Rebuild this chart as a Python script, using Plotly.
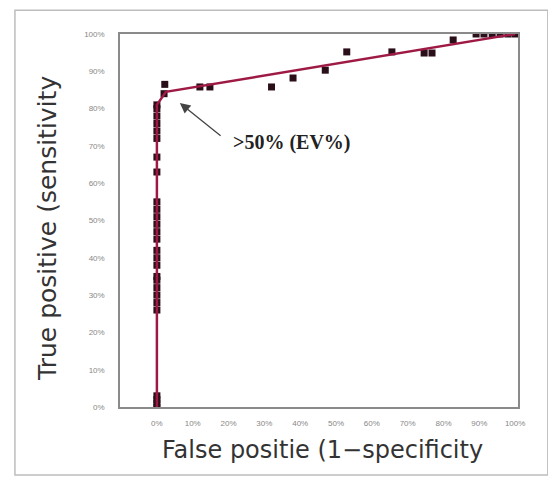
import plotly.graph_objects as go

# ROC points (false positive rate, true positive rate)
fpr = [0, 0, 0, 0,
       0, 0, 0, 0, 0, 0,
       0, 0, 0,
       0, 0, 0,
       0, 0, 0,
       0, 0,
       0, 0, 0, 0, 0,
       0, 0.02, 0.022, 0.12, 0.148, 0.32, 0.38, 0.47, 0.53, 0.656,
       0.746, 0.768, 0.827, 0.891, 0.913, 0.936, 0.958, 0.98, 1.0]
tpr = [0.0, 0.01, 0.02, 0.03,
       0.26, 0.28, 0.30, 0.32, 0.34, 0.35,
       0.38, 0.40, 0.42,
       0.45, 0.47, 0.49,
       0.51, 0.53, 0.55,
       0.63, 0.67,
       0.72, 0.74, 0.76, 0.78, 0.80,
       0.81, 0.84, 0.865, 0.858, 0.858, 0.858, 0.882, 0.903, 0.952, 0.952,
       0.949, 0.949, 0.984, 1.0, 1.0, 1.0, 1.0, 1.0, 1.0]

# fitted curve vertices
fit_x = [0, 0, 0.025, 1.0]
fit_y = [0, 0.81, 0.845, 1.0]

x_ticks = [0, 0.1, 0.2, 0.3, 0.4, 0.5, 0.6, 0.7, 0.8, 0.9, 1.0]
x_labels = ["0%", "10%", "20%", "30%", "40%", "50%", "60%", "70%", "80%", "90%", "100%"]
y_ticks = [0, 0.1, 0.2, 0.3, 0.4, 0.5, 0.6, 0.7, 0.8, 0.9, 1.0]
y_labels = ["0%", "10%", "20%", "30%", "40%", "50%", "60%", "70%", "80%", "90%", "100%"]

fig = go.Figure()
fig.add_trace(go.Scatter(x=fpr, y=tpr, mode="markers",
                         marker=dict(symbol="square", size=7, color="#2a0f1a"),
                         showlegend=False))
fig.add_trace(go.Scatter(x=fit_x, y=fit_y, mode="lines",
                         line=dict(color="#9e1a45", width=2.5),
                         showlegend=False))

axis_common = dict(showgrid=False, zeroline=False, showline=True, linecolor="#8a8a8a",
                   linewidth=1.5, mirror=True, ticks="",
                   tickfont=dict(family="Liberation Sans", size=8, color="#888888"))
fig.update_xaxes(range=[-0.103, 1.008], tickvals=x_ticks, ticktext=x_labels,
                 ticklabelstandoff=8, **axis_common)
fig.update_yaxes(range=[0, 1.0], tickvals=y_ticks, ticktext=y_labels,
                 ticklabelstandoff=12, **axis_common)

fig.add_annotation(x=0.064, y=0.815, ax=0.182, ay=0.724, axref="x", ayref="y",
                   xref="x", yref="y", text="", showarrow=True,
                   arrowhead=2, arrowsize=1.6, arrowwidth=1.3, arrowcolor="#444444")
fig.add_annotation(x=0.377, y=0.71, xref="x", yref="y", text="<b>&gt;50% (EV%)</b>",
                   showarrow=False,
                   font=dict(family="Liberation Serif", size=20, color="#222222"))

fig.add_annotation(x=0.508, y=-0.115, xref="paper", yref="paper",
                   xanchor="center", yanchor="middle",
                   text="False positie (1\u2212specificity", showarrow=False,
                   font=dict(family="DejaVu Sans", size=24, color="#333333"))
fig.add_annotation(x=-0.181, y=0.48, xref="paper", yref="paper",
                   xanchor="center", yanchor="middle",
                   text="True positive (sensitivity", showarrow=False, textangle=-90,
                   font=dict(family="DejaVu Sans", size=25, color="#333333"))

fig.add_shape(type="rect", xref="paper", yref="paper",
              x0=-0.264, x1=1.075, y0=-0.182, y1=1.064,
              line=dict(color="#bdbdbd", width=1.5), layer="below")

fig.update_layout(width=556, height=485,
                  margin=dict(l=112, r=46, t=26, b=86),
                  paper_bgcolor="white", plot_bgcolor="white")

fig.write_html("out.html")
